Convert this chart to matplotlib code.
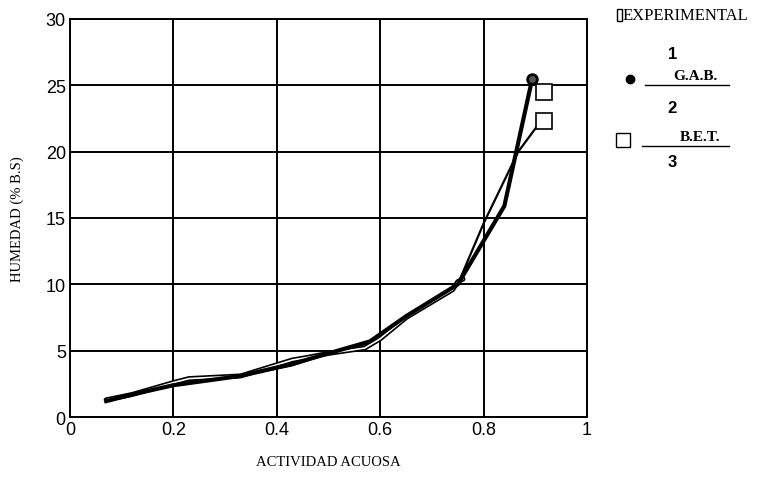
import numpy as np
import matplotlib
matplotlib.use('Agg')
import matplotlib.pyplot as plt
from matplotlib.lines import Line2D

# Isotermas de sorcion: humedad (% b.s.) contra actividad acuosa
aw_gab = [0.07, 0.12, 0.20, 0.33, 0.43, 0.50, 0.58, 0.65, 0.75, 0.84, 0.894]
hum_gab = [1.2, 1.7, 2.4, 3.1, 4.0, 4.8, 5.7, 7.6, 10.0, 15.9, 25.5]

aw_exp = [0.07, 0.12, 0.20, 0.23, 0.33, 0.43, 0.46, 0.50, 0.57, 0.60, 0.65, 0.74, 0.75, 0.76]
hum_exp = [1.3, 1.7, 2.6, 2.9, 3.1, 4.3, 4.5, 4.8, 5.2, 5.9, 7.5, 9.6, 10.2, 10.4]

aw_bet = [0.07, 0.12, 0.20, 0.33, 0.43, 0.50, 0.58, 0.65, 0.75, 0.80, 0.867, 0.905, 0.917]
hum_bet = [1.2, 1.7, 2.4, 3.1, 3.9, 4.8, 5.6, 7.5, 10.0, 14.6, 20.0, 22.0, 22.3]

aw_ult_exp = [0.917]
hum_ult_exp = [24.5]

fig = plt.figure(figsize=(7.57, 4.85), dpi=100)
ax = fig.add_axes([0.0925, 0.138, 0.683, 0.821])

ax.plot(aw_bet, hum_bet, color='black', lw=1.6, zorder=3)
# linea experimental de doble trazo (contorno negro, interior blanco)
ax.plot(aw_exp, hum_exp, color='black', lw=3.6, solid_capstyle='round', zorder=3)
ax.plot(aw_exp, hum_exp, color='white', lw=1.2, solid_capstyle='round', zorder=4)
ax.plot(aw_gab, hum_gab, color='black', lw=3.0, zorder=5)

ax.plot(aw_gab[-1:], hum_gab[-1:], marker='o', ms=7, mfc='#555555', mec='black', mew=2, ls='none', zorder=6)
ax.plot(aw_bet[-1:], hum_bet[-1:], marker='s', ms=11, mfc='white', mec='black', mew=1.2, ls='none', zorder=6)
ax.plot(aw_ult_exp, hum_ult_exp, marker='s', ms=11, mfc='white', mec='black', mew=1.2, ls='none', zorder=6)

ax.set_xlim(0, 1)
ax.set_ylim(0, 30)
ax.set_xticks([0, 0.2, 0.4, 0.6, 0.8, 1])
ax.set_xticklabels(['0', '0.2', '0.4', '0.6', '0.8', '1'])
ax.set_yticks([0, 5, 10, 15, 20, 25, 30])
ax.tick_params(length=0, labelsize=13, pad=3)
for lab in ax.get_xticklabels() + ax.get_yticklabels():
    lab.set_family('Liberation Sans')
ax.grid(True, color='black', lw=1.4)
for s in ax.spines.values():
    s.set_linewidth(1.4)

ax.set_xlabel('ACTIVIDAD ACUOSA', family='Liberation Serif', fontsize=10.5, labelpad=12)
ax.set_ylabel('HUMEDAD (% B.S)', family='Liberation Serif', fontsize=10.5, labelpad=16)

# leyenda a la derecha
fig.text(0.822, 0.967, 'EXPERIMENTAL', family='Liberation Serif', fontsize=12, va='center', ha='left')
fig.patches.append(plt.Rectangle((0.815, 0.954), 0.007, 0.026, transform=fig.transFigure,
                                 fill=False, ec='black', lw=1.0))
fig.text(0.888, 0.887, '1', family='Liberation Sans', fontsize=12, weight='bold', ha='center', va='center')
fig.lines.append(Line2D([0.832], [0.835], transform=fig.transFigure, marker='o', ms=6, mfc='black', mec='black'))
fig.text(0.918, 0.843, 'G.A.B.', family='Liberation Serif', fontsize=11, weight='bold', ha='center', va='center')
fig.lines.append(Line2D([0.852, 0.963], [0.822, 0.822], transform=fig.transFigure, color='black', lw=1.0))
fig.text(0.888, 0.777, '2', family='Liberation Sans', fontsize=12, weight='bold', ha='center', va='center')
fig.lines.append(Line2D([0.823], [0.71], transform=fig.transFigure, marker='s', ms=10, mfc='white', mec='black', mew=1.0))
fig.text(0.925, 0.716, 'B.E.T.', family='Liberation Serif', fontsize=11, weight='bold', ha='center', va='center')
fig.lines.append(Line2D([0.848, 0.963], [0.696, 0.696], transform=fig.transFigure, color='black', lw=1.0))
fig.text(0.888, 0.664, '3', family='Liberation Sans', fontsize=12, weight='bold', ha='center', va='center')

fig.savefig('out.png', dpi=100)
